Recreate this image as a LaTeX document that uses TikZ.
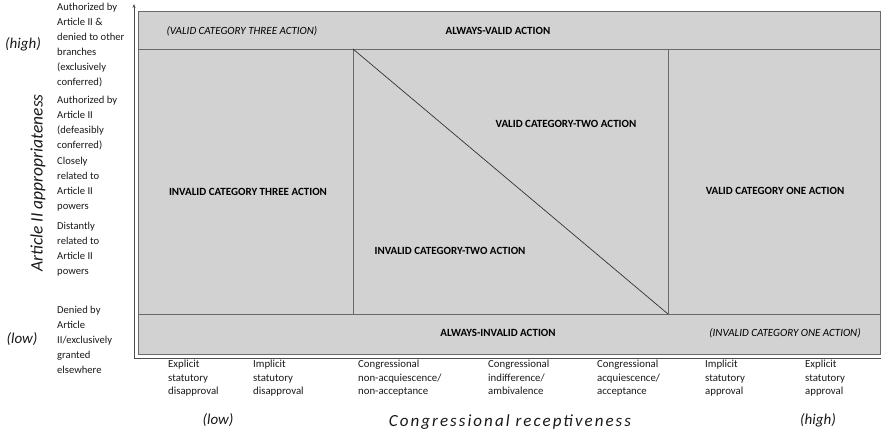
\documentclass[tikz,border=0pt]{standalone}
\usepackage{fontspec}
\setmainfont{Carlito}
\newfontfamily\spacedfont[LetterSpace=12]{Carlito}
\usetikzlibrary{arrows.meta}
\definecolor{stip}{HTML}{D2D2D2}
\definecolor{gridl}{HTML}{6A6A6A}
\tikzset{
  side/.style={font=\fontsize{10.6}{15}\selectfont, align=left, anchor=north west, inner sep=0pt, text=black!90},
  bot/.style={font=\fontsize{10.8}{13.5}\selectfont, align=left, anchor=north west, inner sep=0pt, text=black!90},
  cell/.style={font=\fontsize{11}{13}\selectfont\bfseries, inner sep=0pt, text=black},
  celli/.style={font=\fontsize{11}{13}\selectfont\itshape, inner sep=0pt, text=black},
  hilo/.style={font=\fontsize{15}{17}\selectfont\itshape, inner sep=0pt, text=black!90},
  axtitle/.style={font=\fontsize{17}{19}\selectfont\spacedfont\itshape, inner sep=0pt, text=black!90},
  axtitlev/.style={font=\fontsize{17.5}{19}\selectfont\itshape, inner sep=0pt, text=black!90},
}
\begin{document}
\begin{tikzpicture}[x=1pt,y=-1pt]
\useasboundingbox (0,0) rectangle (882,433);
% regions
\fill[stip] (138,11) rectangle (880,354);
\draw[gridl, line width=0.7pt] (138,11) rectangle (880,354);
\draw[gridl, line width=0.7pt] (138,49) -- (880,49);
\draw[gridl, line width=0.7pt] (138,314) -- (880,314);
\draw[gridl, line width=0.7pt] (353,49) -- (353,314);
\draw[gridl, line width=0.7pt] (668,49) -- (668,314);
\draw[black!80, line width=0.7pt] (353,49) -- (668,314);
% axes
\draw[black!70, line width=0.8pt, -{Stealth[length=4pt,width=3pt]}] (134,358) -- (134,4);
\draw[black!70, line width=0.8pt] (134,358) -- (881,358);
% cell labels
\node[celli] (v3) at (242,31) {(VALID CATEGORY THREE ACTION)};
\node[cell] (av) at (498,31) {ALWAYS-VALID ACTION};
\node[cell] (i3) at (248,192) {INVALID CATEGORY THREE ACTION};
\node[cell] (v2) at (566,124) {VALID CATEGORY-TWO ACTION};
\node[cell] (i2) at (450,251) {INVALID CATEGORY-TWO ACTION};
\node[cell] (v1) at (775,191) {VALID CATEGORY ONE ACTION};
\node[cell] (ai) at (498,333) {ALWAYS-INVALID ACTION};
\node[celli] (i1) at (785,333) {(INVALID CATEGORY ONE ACTION)};
% side labels
\node[side] (s1) at (57,3) {Authorized by\\Article II \&\\denied to other\\branches\\(exclusively\\conferred)};
\node[side] (s2) at (57,96) {Authorized by\\Article II\\(defeasibly\\conferred)};
\node[side] (s3) at (57,157) {Closely\\related to\\Article II\\powers};
\node[side] (s4) at (57,222) {Distantly\\related to\\Article II\\powers};
\node[side] (s5) at (57,306) {Denied by\\Article\\II/exclusively\\granted\\elsewhere};
\node[hilo] (yh) at (23,44) {(high)};
\node[hilo] (yl) at (22,339) {(low)};
\node[axtitlev, rotate=90] (yt) at (38,183) {Article II appropriateness};
% bottom labels
\node[bot] (b1) at (168,360) {Explicit\\statutory\\disapproval};
\node[bot] (b2) at (253,360) {Implicit\\statutory\\disapproval};
\node[bot] (b3) at (358,360) {Congressional\\non-acquiescence/\\non-acceptance};
\node[bot] (b4) at (488,360) {Congressional\\indifference/\\ambivalence};
\node[bot] (b5) at (597,360) {Congressional\\acquiescence/\\acceptance};
\node[bot] (b6) at (705,360) {Implicit\\statutory\\approval};
\node[bot] (b7) at (805,360) {Explicit\\statutory\\approval};
\node[hilo] (xl) at (218,420) {(low)};
\node[axtitle] (xt) at (510,422) {Congressional receptiveness};
\node[hilo] (xh) at (818,420) {(high)};
\end{tikzpicture}
\end{document}
